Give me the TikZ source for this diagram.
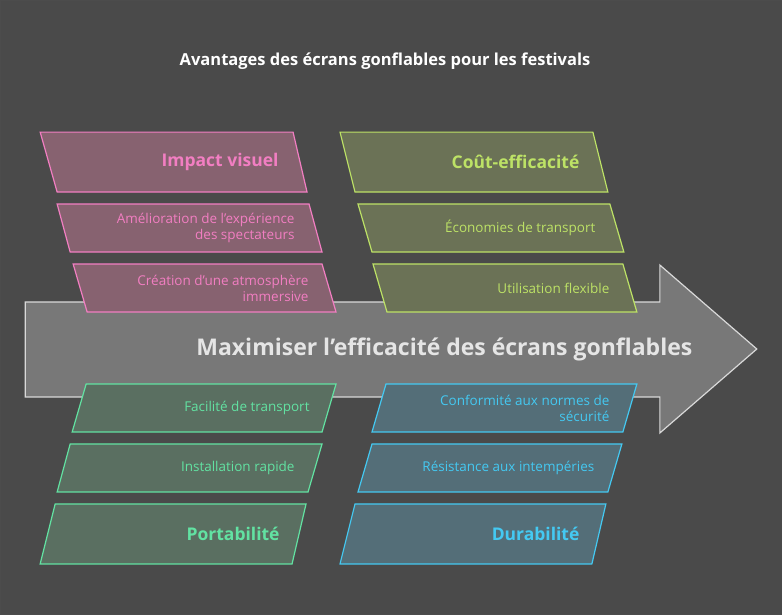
\documentclass[tikz,border=0pt]{standalone}
\usepackage{fontspec}
\setmainfont{Open Sans}
\begin{document}
\begin{tikzpicture}[x=1pt,y=-1pt,
 pk/.style={draw=pkE,fill=pkF,line width=1.2pt},
 gy/.style={draw=gyE,fill=gyF,line width=1.2pt},
 gr/.style={draw=grE,fill=grF,line width=1.2pt},
 bl/.style={draw=blE,fill=blF,line width=1.2pt},
 hd/.style={anchor=east,font=\fontsize{17.5}{20}\selectfont\bfseries},
 sb/.style={anchor=east,font=\fontsize{13.5}{16}\selectfont,align=right}]
\definecolor{bg}{HTML}{4A4A4A}
\definecolor{pkE}{HTML}{F27EC2}\definecolor{pkF}{HTML}{876270}
\definecolor{gyE}{HTML}{BDE266}\definecolor{gyF}{HTML}{6B7256}
\definecolor{grE}{HTML}{62E2A2}\definecolor{grF}{HTML}{5A6F61}
\definecolor{blE}{HTML}{44C9F2}\definecolor{blF}{HTML}{546E78}
\definecolor{arF}{HTML}{787878}
\fill[bg,draw=gray!60!black] (0,0) rectangle (782,614);
\useasboundingbox (0,0) rectangle (782,614);
\node[text=white,font=\fontsize{16.5}{20}\selectfont\bfseries] (title) at (385,61) {Avantages des écrans gonflables pour les festivals};
\draw[fill=arF,draw=gray!30!white,line width=1.2pt] (25,302) -- (660,302) -- (660,265) -- (757,349) -- (660,433) -- (660,397) -- (25,397) -- cycle;
\node[anchor=east,text=white!80!gray,font=\fontsize{23}{26}\selectfont\bfseries] (main) at (696,349) {Maximiser l'efficacité des écrans gonflables};
% top left
\draw[pk] (40,132)--(293,132)--(307,192)--(57,192)--cycle;
\node[hd,text=pkE] (a) at (282,162) {Impact visuel};
\draw[pk] (57,204)--(309,204)--(322,252)--(70,252)--cycle;
\node[sb,text=pkE] (a1) at (298,228) {Amélioration de l'expérience\\des spectateurs};
\draw[pk] (73,264)--(322,264)--(336,312)--(87,312)--cycle;
\node[sb,text=pkE] (a2) at (312,288) {Création d'une atmosphère\\immersive};
% top right
\draw[gy] (340,132)--(593,132)--(608,192)--(355,192)--cycle;
\node[hd,text=gyE] (b) at (583,162) {Coût-efficacité};
\draw[gy] (358,204)--(610,204)--(624,252)--(372,252)--cycle;
\node[sb,text=gyE] (b1) at (599,228) {Économies de transport};
\draw[gy] (373,264)--(623,264)--(637,312)--(387,312)--cycle;
\node[sb,text=gyE] (b2) at (613,288) {Utilisation flexible};
% bottom left
\draw[gr] (86,384)--(336,384)--(322,432)--(72,432)--cycle;
\node[sb,text=grE] (c1) at (313,408) {Facilité de transport};
\draw[gr] (70,444)--(322,444)--(308,492)--(57,492)--cycle;
\node[sb,text=grE] (c2) at (298,468) {Installation rapide};
\draw[gr] (55,504)--(306,504)--(292,564)--(40,564)--cycle;
\node[hd,text=grE] (c) at (283,534) {Portabilité};
% bottom right
\draw[bl] (386,384)--(637,384)--(623,432)--(372,432)--cycle;
\node[sb,text=blE] (d1) at (613,408) {Conformité aux normes de\\sécurité};
\draw[bl] (372,444)--(622,444)--(608,492)--(358,492)--cycle;
\node[sb,text=blE] (d2) at (598,468) {Résistance aux intempéries};
\draw[bl] (355,504)--(606,504)--(592,564)--(340,564)--cycle;
\node[hd,text=blE] (d) at (583,534) {Durabilité};
\end{tikzpicture}
\end{document}
